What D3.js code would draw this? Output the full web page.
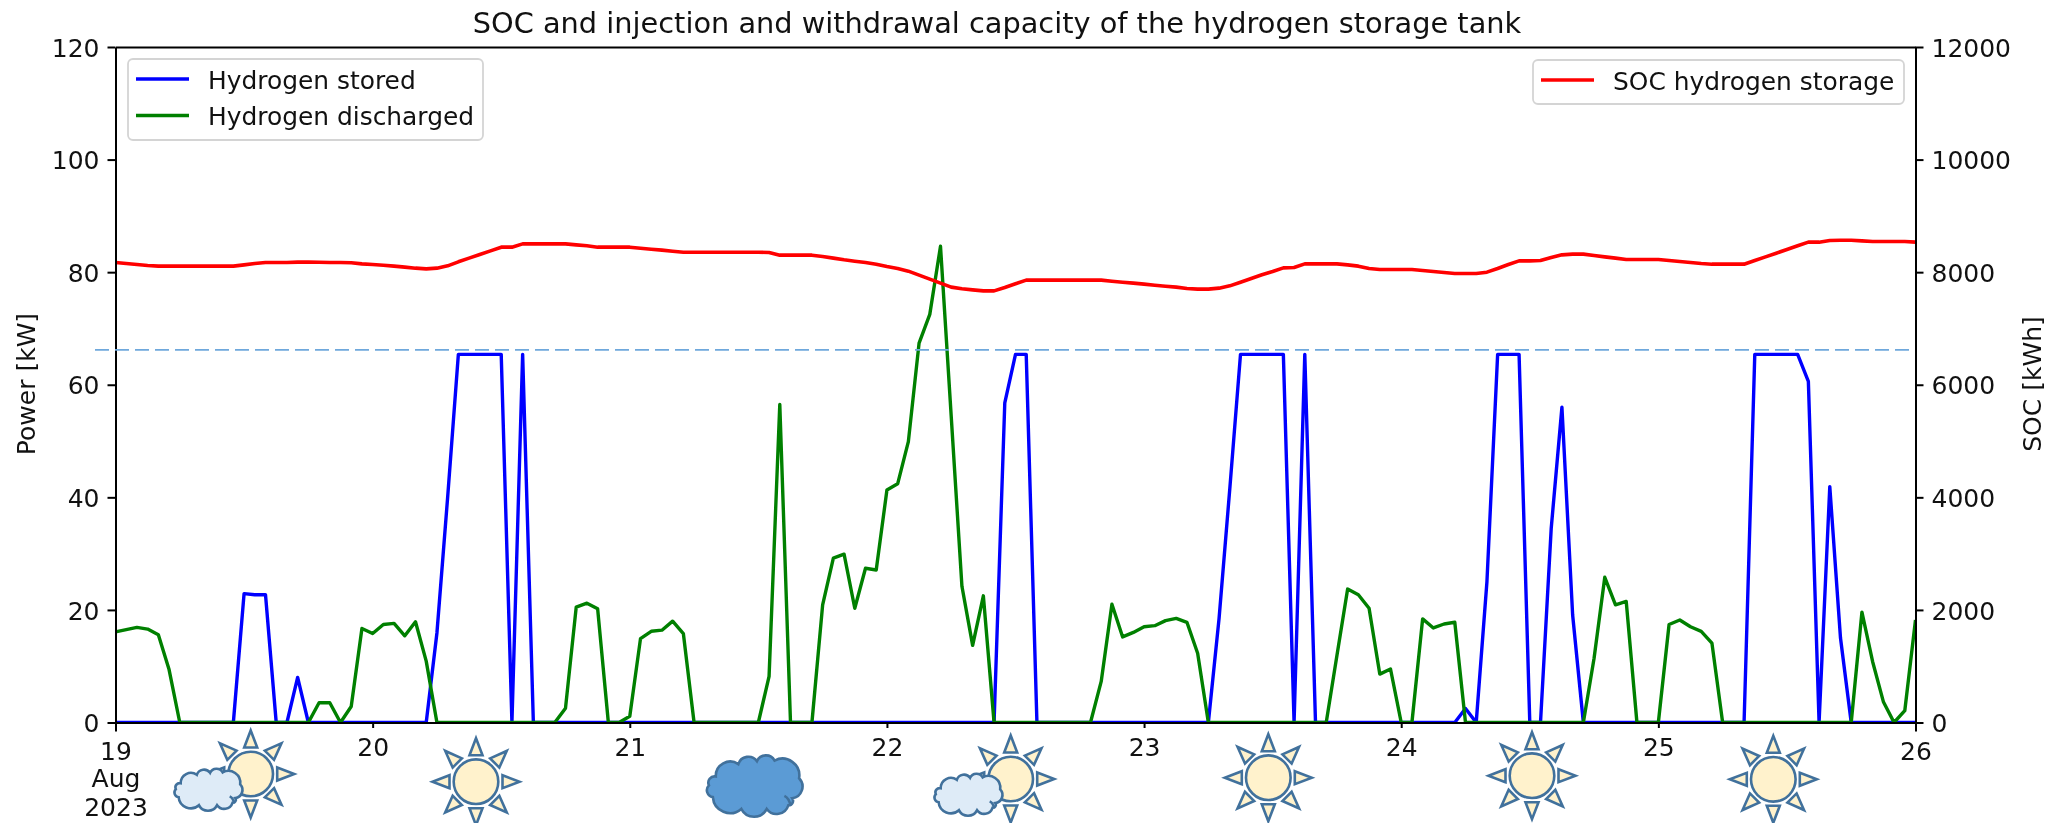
<!DOCTYPE html>
<html><head><meta charset="utf-8">
<style>html,body{margin:0;padding:0;background:#fff;overflow:hidden}svg{display:block;filter:blur(0.45px)}text{font-family:"DejaVu Sans",sans-serif;fill:#111}</style>
<script src="https://cdn.jsdelivr.net/npm/d3@7"></script></head><body>
<svg id="c" width="2056" height="823"></svg>
<script>
const startTime = Date.UTC(2023,7,19);
const titleText = "SOC and injection and withdrawal capacity of the hydrogen storage tank";
const powerTicks = [0,20,40,60,80,100,120];
const socTicks = [0,2000,4000,6000,8000,10000,12000];
const dayLabels = ["19","20","21","22","23","24","25","26"];
const capacityLimit = 66.2;
const stored = [0,0,0,0,0,0,0,0,0,0,0,0,22.9,22.7,22.7,0,0,8,0,0,0,0,0,0,
 0,0,0,0,0,0,15.9,40,65.4,65.4,65.4,65.4,65.4,0,65.4,0,0,0,0,0,0,0,0,0,
 0,0,0,0,0,0,0,0,0,0,0,0,0,0,0,0,0,0,0,0,0,0,0,0,
 0,0,0,0,0,0,0,0,0,0,0,56.8,65.4,65.4,0,0,0,0,0,0,0,0,0,0,
 0,0,0,0,0,0,0,18.5,41.5,65.4,65.4,65.4,65.4,65.4,0,65.4,0,0,0,0,0,0,0,0,
 0,0,0,0,0,0,2.5,0,25,65.4,65.4,65.4,0,0,34.5,56,19.1,0,0,0,0,0,0,0,
 0,0,0,0,0,0,0,0,0,65.4,65.4,65.4,65.4,65.4,60.6,0,41.9,15,0,0,0,0,0,0,0];
const discharged = [16.1,16.5,16.9,16.6,15.6,9.4,0,0,0,0,0,0,0,0,0,0,0,0,0,3.5,3.5,0,2.85,16.7,
 15.8,17.4,17.6,15.4,17.9,10.9,0,0,0,0,0,0,0,0,0,0,0,0,2.55,20.5,21.2,20.2,0,0,
 1.1,14.9,16.2,16.4,18,15.8,0,0,0,0,0,0,0,8.2,56.5,0,0,0,20.9,29.2,29.9,20.3,27.4,27.1,
 41.3,42.4,49.9,67.4,72.5,84.6,54.4,24.2,13.7,22.5,0,0,0,0,0,0,0,0,0,0,7.3,21,15.2,16,
 17,17.2,18.1,18.5,17.8,12.3,0,0,0,0,0,0,0,0,0,0,0,0,11.9,23.7,22.7,20.3,8.6,9.5,
 0,0,18.4,16.8,17.5,17.8,0,0,0,0,0,0,0,0,0,0,0,0,11.4,25.8,20.9,21.5,0,0,
 0,17.4,18.2,17,16.2,14.1,0,0,0,0,0,0,0,0,0,0,0,0,0,19.6,10.8,3.7,0,2.1,18.2];
const soc = [8172,8154,8136,8118,8107,8107,8107,8107,8107,8107,8107,8107,8130,8154,8172,8172,8172,8178,8178,8175,8172,8172,8166,8148,
 8136,8124,8107,8089,8071,8059,8071,8112,8184,8249,8314,8379,8444,8444,8503,8503,8503,8503,8503,8485,8468,8444,8444,8444,
 8444,8426,8408,8391,8373,8355,8355,8355,8355,8355,8355,8355,8355,8350,8302,8302,8302,8302,8278,8249,8219,8195,8172,8142,
 8100,8065,8018,7947,7876,7805,7734,7704,7686,7668,7668,7728,7793,7858,7858,7858,7858,7858,7858,7858,7858,7840,7822,7805,
 7787,7769,7751,7734,7710,7698,7698,7716,7757,7822,7888,7953,8012,8077,8083,8148,8148,8148,8148,8130,8107,8065,8047,8047,
 8047,8047,8030,8012,7994,7976,7976,7976,8000,8065,8136,8201,8201,8207,8260,8308,8320,8320,8296,8272,8249,8225,8225,8225,
 8225,8207,8189,8172,8154,8142,8142,8142,8142,8207,8272,8337,8403,8468,8533,8533,8562,8568,8568,8556,8545,8545,8545,8545,8533];
const seriesLeft = [{name:"Hydrogen stored",values:stored,color:"#0000ff"},{name:"Hydrogen discharged",values:discharged,color:"#008000"}];
const seriesRight = [{name:"SOC hydrogen storage",values:soc,color:"#ff0000"}];
const weatherKinds = ["partly","sun","cloud","partly","sun","sun","sun"];

const M = {l:115.5,r:1915.5,t:47,b:722.5};
const svg = d3.select("#c");
const hourMs = 3600e3;
const timeOf = i => new Date(startTime + i*hourMs);
const x = d3.scaleUtc().domain([timeOf(0),timeOf(168)]).range([M.l,M.r]);
const yL = d3.scaleLinear().domain([0,120]).range([M.b,M.t]);
const yR = d3.scaleLinear().domain([0,12000]).range([M.b,M.t]);
const FS = 25, SW = 2;

const line = (y)=>d3.line().x((d,i)=>x(timeOf(i))).y(d=>y(d)).curve(d3.curveLinear);
const clipId="plotclip";
svg.append("clipPath").attr("id",clipId).append("rect").attr("x",M.l).attr("y",M.t).attr("width",M.r-M.l).attr("height",M.b-M.t);
const gL = svg.append("g").attr("clip-path",`url(#${clipId})`);
gL.selectAll("path").data(seriesLeft).join("path").attr("d",d=>line(yL)(d.values)).attr("fill","none").attr("stroke",d=>d.color).attr("stroke-width",3.4).attr("stroke-linejoin","round");
const gR = svg.append("g").attr("clip-path",`url(#${clipId})`);
gR.selectAll("path").data(seriesRight).join("path").attr("d",d=>line(yR)(d.values)).attr("fill","none").attr("stroke",d=>d.color).attr("stroke-width",3.6).attr("stroke-linejoin","round");

function styleAxis(g){g.select(".domain").attr("stroke","#000").attr("stroke-width",SW);g.selectAll(".tick line").attr("stroke","#000").attr("stroke-width",SW);g.selectAll("text").attr("font-size",FS).attr("font-family","DejaVu Sans").attr("fill","#111").attr("dy",".365em");}
const axL = svg.append("g").attr("transform",`translate(${M.l},0)`).call(d3.axisLeft(yL).tickValues(powerTicks).tickSize(8).tickPadding(8).tickSizeOuter(0));
styleAxis(axL);
const axR = svg.append("g").attr("transform",`translate(${M.r},0)`).call(d3.axisRight(yR).tickValues(socTicks).tickSize(8).tickPadding(8).tickFormat(d3.format("d")).tickSizeOuter(0));
styleAxis(axR);
const axT = svg.append("g").attr("transform",`translate(0,${M.t})`).call(d3.axisTop(x).tickValues([]).tickSizeOuter(0));
styleAxis(axT);
const dayTimes = dayLabels.map((d,i)=>timeOf(i*24));
const axB = svg.append("g").attr("transform",`translate(0,${M.b})`).call(d3.axisBottom(x).tickValues(dayTimes).tickSizeOuter(0).tickFormat(""));
styleAxis(axB);
const isMajor=(i)=>i===0||i===dayLabels.length-1;
axB.selectAll(".tick line").attr("y2",(d,i)=>isMajor(i)?9:5.5);
axB.selectAll(".tick").append("text").attr("text-anchor","middle").attr("font-size",FS).attr("fill","#111")
  .attr("y",(d,i)=>isMajor(i)?37:33).text((d,i)=>dayLabels[i]);
const first = axB.selectAll(".tick").filter((d,i)=>i===0);
first.append("text").attr("text-anchor","middle").attr("font-size",FS).attr("fill","#111").attr("y",64).text("Aug");
first.append("text").attr("text-anchor","middle").attr("font-size",FS).attr("fill","#111").attr("y",93).text("2023");

svg.append("line").attr("x1",95).attr("x2",1910).attr("y1",yL(capacityLimit)).attr("y2",yL(capacityLimit))
  .attr("stroke","#6fa8dc").attr("stroke-width",1.6).attr("stroke-dasharray","14 6");

svg.append("text").attr("x",997).attr("y",33).attr("text-anchor","middle").attr("font-size",28.8).text(titleText);
svg.append("text").attr("transform","translate(35,384) rotate(-90)").attr("text-anchor","middle").attr("font-size",FS).text("Power [kW]");
svg.append("text").attr("transform","translate(2041,384) rotate(-90)").attr("text-anchor","middle").attr("font-size",FS).text("SOC [kWh]");

function legend(items,bx,by,bw,bh){
  const g=svg.append("g");
  g.append("rect").attr("x",bx).attr("y",by).attr("width",bw).attr("height",bh).attr("rx",5).attr("fill","#fff").attr("fill-opacity",.85).attr("stroke","#d4d4d4").attr("stroke-width",1.8);
  const row=g.selectAll("g").data(items).join("g").attr("transform",(d,i)=>`translate(${bx+8},${by+20+i*36.5})`);
  row.append("line").attr("x1",0).attr("x2",53).attr("y1",0).attr("y2",0).attr("stroke",d=>d.color).attr("stroke-width",3.4);
  row.append("text").attr("x",72).attr("y",9.5).attr("font-size",24.9).text(d=>d.name);
}
legend(seriesLeft,128,59,355,81);
legend(seriesRight,1533,60,371,44);

const iconAt = [[250.7,774],[476,781.7],[754,787],[1010.7,779],[1268.3,777.7],[1532,775.7],[1773.3,779.3]];
const ICON="#41719c";
const lobes=[[.10,.33],[.33,.12],[.52,.07],[.70,.06],[.95,.36],[.88,.70],[.84,.82],[.62,.88],[.36,.88],[.07,.68],[.03,.48]];
function cloudPath(bx,by,w,h){
  const P=lobes.map(p=>[bx+p[0]*w,by+p[1]*h]);
  let s=`M${P[0][0]},${P[0][1]}`;
  for(let i=1;i<=P.length;i++){const a=P[i-1],b=P[i%P.length];const r=Math.hypot(b[0]-a[0],b[1]-a[1])*.56;s+=`A${r},${r} 0 0 1 ${b[0]},${b[1]}`;}
  return s+"Z";
}
function sun(g,cx,cy){
  const a=d3.range(8).map(i=>i*45);
  g.selectAll("path.ray").data(a).join("path").attr("class","ray").attr("d","M-6.5,-26.5L0,-43.5L6.5,-26.5Z")
   .attr("transform",d=>`translate(${cx},${cy}) rotate(${d})`).attr("fill","#fff2cc").attr("stroke",ICON).attr("stroke-width",2.6).attr("stroke-linejoin","miter");
  g.append("circle").attr("cx",cx).attr("cy",cy).attr("r",22.3).attr("fill","#fff2cc").attr("stroke",ICON).attr("stroke-width",2.6);
}
function cloud(g,bx,by,w,h,fill){
  g.append("path").attr("d",cloudPath(bx,by,w,h)).attr("fill",fill).attr("stroke",ICON).attr("stroke-width",2.6);
  g.append("path").attr("d",`M${bx+.80*w},${by+.66*h}q${.05*w},${.04*h} ${.06*w},${.16*h}`).attr("fill","none").attr("stroke",ICON).attr("stroke-width",2.6);
}
const icons=svg.selectAll("g.icon").data(weatherKinds).join("g").attr("class","icon");
icons.each(function(k,i){
  const g=d3.select(this),[cx,cy]=iconAt[i];
  if(k==="cloud"){cloud(g,cx-48,cy-30,98,59,"#5b9bd5");return;}
  sun(g,cx,cy);
  if(k==="partly")cloud(g,cx-77,cy-4,70,40,"#deebf7");
});
</script></body></html>
